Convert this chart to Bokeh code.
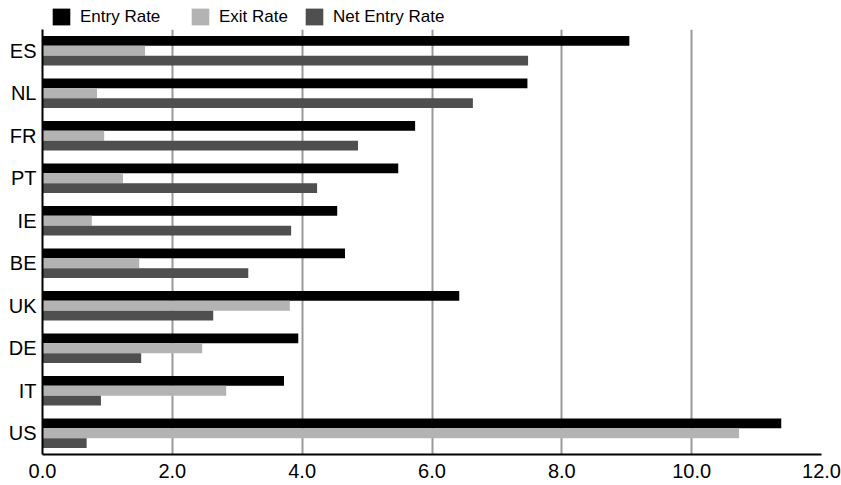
from bokeh.plotting import figure
from bokeh.layouts import column
from bokeh.models import (ColumnDataSource, FactorRange, Range1d, FixedTicker,
                          Legend, LegendItem)
from bokeh.transform import dodge
from bokeh.embed import file_html
from bokeh.resources import INLINE

countries = ["ES", "NL", "FR", "PT", "IE", "BE", "UK", "DE", "IT", "US"]
entry_rate = [9.04, 7.47, 5.74, 5.48, 4.54, 4.66, 6.42, 3.94, 3.72, 11.38]
exit_rate = [1.58, 0.84, 0.95, 1.24, 0.76, 1.49, 3.81, 2.46, 2.83, 10.73]
net_entry_rate = [7.48, 6.63, 4.86, 4.23, 3.83, 3.17, 2.63, 1.52, 0.90, 0.68]
x_ticks = [0, 2, 4, 6, 8, 10, 12]
x_tick_labels = ["0.0", "2.0", "4.0", "6.0", "8.0", "10.0", "12.0"]
series_names = ["Entry Rate", "Exit Rate", "Net Entry Rate"]
series_colors = ["#000000", "#b3b3b3", "#4f4f4f"]

source = ColumnDataSource(dict(country=countries, entry=entry_rate,
                               exit=exit_rate, net=net_entry_rate))

FONT = "Liberation Sans"

# ---------------- main chart ----------------
p = figure(width=841, height=456, output_backend="svg", toolbar_location=None,
           y_range=FactorRange(factors=countries[::-1]),
           x_range=Range1d(0, 12))
p.min_border_left = 42
p.min_border_right = 20
p.min_border_top = 0
p.min_border_bottom = 31
p.outline_line_color = None
p.background_fill_color = "white"
p.border_fill_color = "white"

bw = 0.23
offsets = [bw, 0, -bw]
fields = ["entry", "exit", "net"]
for f, off, col in zip(fields, offsets, series_colors):
    p.hbar(y=dodge("country", off, range=p.y_range), right=f, left=0,
           height=bw, source=source, color=col, line_color=None)

p.xaxis.ticker = FixedTicker(ticks=x_ticks)
p.xaxis.major_label_overrides = {t: l for t, l in zip(x_ticks, x_tick_labels)}
p.xaxis.major_label_text_font = FONT
p.xaxis.major_label_text_font_size = "20px"
p.xaxis.major_label_text_color = "black"
p.xaxis.major_label_standoff = 9
p.xaxis.major_tick_out = 0
p.xaxis.major_tick_in = 0
p.xaxis.minor_tick_out = 0
p.xaxis.minor_tick_in = 0
p.xaxis.axis_line_width = 2
p.xaxis.axis_line_color = "black"

p.yaxis.major_label_text_font = FONT
p.yaxis.major_label_text_font_size = "20px"
p.yaxis.major_label_text_color = "black"
p.yaxis.major_label_standoff = 6
p.yaxis.major_tick_out = 0
p.yaxis.major_tick_in = 0
p.yaxis.axis_line_width = 2
p.yaxis.axis_line_color = "black"

p.xgrid.grid_line_color = "#999999"
p.xgrid.grid_line_width = 2
p.ygrid.grid_line_color = None

# ---------------- legend strip ----------------
lg_fig = figure(width=841, height=29, output_backend="svg",
                toolbar_location=None, x_axis_type=None, y_axis_type=None,
                x_range=Range1d(0, 1), y_range=Range1d(0, 1))
lg_fig.min_border_left = 0
lg_fig.min_border_right = 0
lg_fig.min_border_top = 0
lg_fig.min_border_bottom = 0
lg_fig.outline_line_color = None
lg_fig.xgrid.visible = False
lg_fig.ygrid.visible = False
lg_fig.background_fill_color = "white"
lg_fig.border_fill_color = "white"

# the column aligns this strip's frame with the chart's frame (left = 42)
leg_x = [8, 147, 261]
for name, f, col, lx in zip(series_names, fields, series_colors, leg_x):
    r = lg_fig.hbar(y=-10, right=f, left=0, height=1, source=source,
                    color=col, line_color=None, visible=False)
    lg = Legend(items=[LegendItem(label=name, renderers=[r])],
                location=(lx, 2), orientation="horizontal",
                padding=0, margin=0, border_line_color=None,
                background_fill_alpha=0, inactive_fill_alpha=0,
                glyph_width=22, glyph_height=21,
                label_standoff=8, label_height=17,
                label_text_font=FONT, label_text_font_size="17px",
                label_text_color="black")
    lg_fig.add_layout(lg, "center")

layout = column(lg_fig, p, spacing=0)
open("out.html", "w").write(file_html(layout, INLINE))
